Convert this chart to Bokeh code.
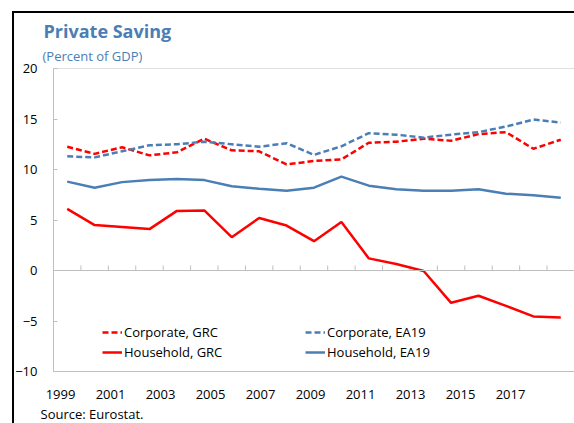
from bokeh.plotting import figure
from bokeh.models import (Range1d, FixedTicker, LinearAxis, Legend, LegendItem,
                          Title, Span)
from bokeh.embed import file_html
from bokeh.resources import INLINE

years = list(range(1999, 2018))
corporate_grc = [12.25, 11.55, 12.2, 11.4, 11.7, 13.05, 11.9, 11.8, 10.5, 10.85,
                 11.0, 12.65, 12.75, 13.05, 12.85, 13.5, 13.7, 12.05, 12.95]
corporate_ea19 = [11.3, 11.2, 11.8, 12.4, 12.5, 12.75, 12.5, 12.25, 12.6, 11.45,
                  12.3, 13.6, 13.45, 13.15, 13.45, 13.7, 14.25, 14.95, 14.65]
household_grc = [6.1, 4.5, 4.3, 4.1, 5.9, 5.95, 3.3, 5.2, 4.45, 2.9,
                 4.8, 1.2, 0.65, -0.05, -3.2, -2.5, -3.5, -4.55, -4.65]
household_ea19 = [8.8, 8.2, 8.75, 8.95, 9.05, 8.95, 8.35, 8.1, 7.9, 8.2,
                  9.3, 8.4, 8.05, 7.9, 7.9, 8.05, 7.6, 7.45, 7.2]
year_labels = [str(y) for y in range(1999, 2018, 2)]
y_ticks = [-10, -5, 0, 5, 10, 15, 20]

FONT = "Open Sans"
RED = "#ff0000"
BLUE = "#4a7eb5"
GRAY = "#bfbfbf"

idx = list(range(len(years)))

W, H = 574, 423
ML, MT, MB = 53, 68, 51
CAT_PX = 27.42            # width of one year category in px
frame_w = W - ML
x_end = -0.5 + frame_w / CAT_PX

p = figure(width=W, height=H, output_backend="svg", toolbar_location=None,
           x_range=Range1d(-0.5, x_end), y_range=Range1d(-10, 20),
           min_border_left=ML, min_border_right=0, min_border_top=MT,
           min_border_bottom=MB, x_axis_location=None, y_axis_location=None,
           styles={"background-image": "linear-gradient(#000,#000), linear-gradient(#000,#000)",
                   "background-size": "2px 100%, 100% 2px",
                   "background-position": "12px 11px, 12px 11px",
                   "background-repeat": "no-repeat"})
p.outline_line_color = None
p.grid.visible = False
p.background_fill_color = "white"
p.border_fill_alpha = 0

# left axis
ya = LinearAxis(ticker=FixedTicker(ticks=y_ticks))
ya.axis_line_color = GRAY
ya.major_tick_in = 4
ya.major_tick_out = 0
ya.major_tick_line_color = GRAY
ya.minor_tick_line_color = None
ya.major_label_text_font = FONT
ya.major_label_text_font_size = "13px"
ya.major_label_text_color = "#000000"
ya.major_label_standoff = 16
p.add_layout(ya, "left")

# bottom axis: labels spaced as in the source image
lab_first_px = 7.0   # first label centre relative to frame left
lab_step_px = 25.0   # label spacing per year
tick_pos = []
overrides = {}
for lab in year_labels:
    k = int(lab) - years[0]
    pos = (lab_first_px + k * lab_step_px) / CAT_PX - 0.5
    tick_pos.append(pos)
    overrides[pos] = lab
xa = LinearAxis(ticker=FixedTicker(ticks=tick_pos), major_label_overrides=overrides)
xa.axis_line_color = GRAY
xa.major_tick_line_color = None
xa.minor_tick_line_color = None
xa.major_label_text_font = FONT
xa.major_label_text_font_size = "13px"
xa.major_label_text_color = "#000000"
xa.major_label_standoff = 12
p.add_layout(xa, "below")

# top frame line and zero line with category tick marks
p.add_layout(Span(location=20, dimension="width", line_color=GRAY, line_width=1))
p.add_layout(Span(location=0, dimension="width", line_color=GRAY, line_width=1))
bounds = [i + 0.5 for i in idx[:-1]]
p.segment(x0=bounds, x1=bounds, y0=[0] * len(bounds), y1=[0.5] * len(bounds),
          line_color=GRAY, line_width=1)

r1 = p.line(idx, corporate_grc, line_color=RED, line_width=2.5, line_dash="6 3")
r2 = p.line(idx, household_grc, line_color=RED, line_width=2.5)
r3 = p.line(idx, corporate_ea19, line_color=BLUE, line_width=2.5, line_dash="6 3")
r4 = p.line(idx, household_ea19, line_color=BLUE, line_width=2.5)

def make_legend(items, loc):
    lg = Legend(items=items, location=loc, orientation="vertical")
    lg.border_line_color = None
    lg.background_fill_alpha = 0
    lg.padding = 0
    lg.margin = 0
    lg.spacing = 0
    lg.glyph_width = 20
    lg.glyph_height = 20
    lg.label_height = 20
    lg.label_standoff = 2
    lg.label_text_font = FONT
    lg.label_text_font_size = "13px"
    lg.label_text_color = "#000000"
    return lg

p.add_layout(make_legend([LegendItem(label="Corporate, GRC", renderers=[r1]),
                          LegendItem(label="Household, GRC", renderers=[r2])], (49, 9)))
p.add_layout(make_legend([LegendItem(label="Corporate, EA19", renderers=[r3]),
                          LegendItem(label="Household, EA19", renderers=[r4])], (252, 9)))

p.add_layout(Title(text="(Percent of GDP)", text_font=FONT, text_font_size="13px",
                   text_font_style="normal", text_color=BLUE, align="left",
                   offset=-11, standoff=8), "above")
p.add_layout(Title(text="Private Saving", text_font=FONT, text_font_size="18px",
                   text_font_style="bold", text_color=BLUE, align="left",
                   offset=-10, standoff=-4), "above")
p.add_layout(Title(text="Source: Eurostat.", text_font=FONT, text_font_size="13px",
                   text_font_style="normal", text_color="#000000", align="left",
                   offset=-13, standoff=2), "below")

open("out.html", "w").write(file_html(p, INLINE))
